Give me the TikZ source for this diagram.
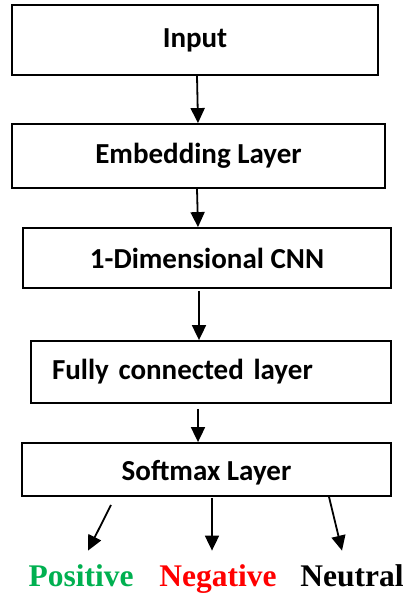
\documentclass[tikz,border=0pt]{standalone}
\usepackage{fontspec}
\setmainfont{Carlito}
\newfontfamily\outfont{Liberation Serif}
\usetikzlibrary{arrows.meta}
\definecolor{posgreen}{RGB}{0,176,80}
\definecolor{negred}{RGB}{255,0,0}

\begin{document}
\begin{tikzpicture}[x=1pt,y=-1pt,
  layer/.style={rectangle,draw,line width=1.8pt,inner sep=0pt,font=\fontsize{29}{33}\selectfont\bfseries},
  outlabel/.style={font=\outfont\fontsize{31.5}{36}\selectfont\bfseries},
  arr/.style={line width=1.8pt,-{Triangle[length=15pt,width=14pt]}}]
\useasboundingbox (0,0) rectangle (408,593);
\path (195,40) node[layer,minimum width=366pt,minimum height=70pt] (in) {Input};
\path (198.5,156) node[layer,minimum width=373pt,minimum height=64pt] (emb) {Embedding Layer};
\draw[arr] ([xshift=2pt]in.south) -- ([xshift=-0.5pt]emb.north);
\path (207,258) node[layer,minimum width=368pt,minimum height=60pt] (cnn) {1-Dimensional CNN};
\draw[arr] ([xshift=-1.5pt]emb.south) -- ([xshift=-9pt]cnn.north);
\path (211,372) node[layer,minimum height=62pt,inner xsep=21pt,text width=318pt,align=left] (fc) {Fully connected layer};
\draw[arr] ([xshift=-8pt,yshift=-2pt]cnn.south) -- ([xshift=-12pt]fc.north);
\path (206.5,469.5) node[layer,minimum width=369pt,minimum height=53pt,text height=27pt] (sm) {Softmax Layer};
\draw[arr] ([xshift=-13pt,yshift=-5pt]fc.south) -- ([xshift=-8.5pt]sm.north);

\path (81,586) node[outlabel,anchor=base,text=posgreen] (pos) {Positive};
\path (218,586) node[outlabel,anchor=base,text=negred] (neg) {Negative};
\path (352,586) node[outlabel,anchor=base] (neu) {Neutral};
\draw[arr] ([xshift=-95.5pt,yshift=-8pt]sm.south) -- ([xshift=7pt,yshift=10pt]pos.north);
\draw[arr] ([xshift=5.5pt,yshift=-1pt]sm.south) -- ([xshift=-6pt,yshift=10pt]neg.north);
\draw[arr] ([xshift=122.5pt]sm.south) -- ([xshift=-10pt,yshift=10pt]neu.north);
\end{tikzpicture}
\end{document}
